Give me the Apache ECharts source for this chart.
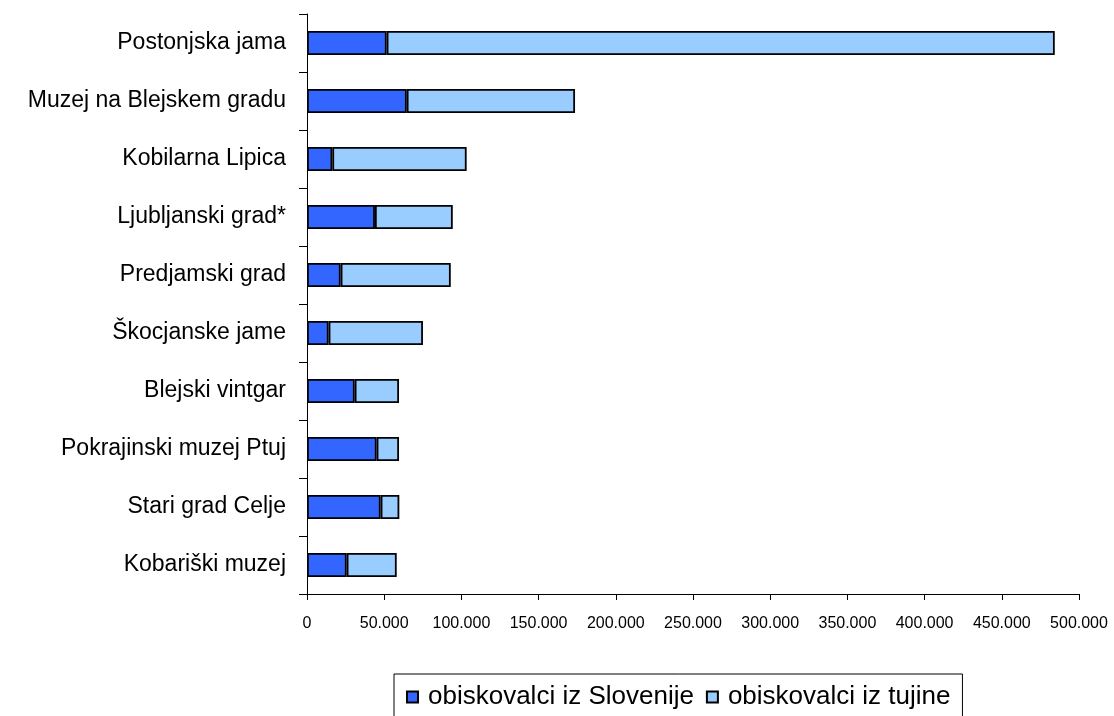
<!DOCTYPE html>
<html>
<head>
<meta charset="utf-8">
<script src="https://cdn.jsdelivr.net/npm/echarts@6/dist/echarts.min.js"></script>
<style>
html,body{margin:0;padding:0;background:#fff;}
#chart{width:1114px;height:716px;}
</style>
</head>
<body>
<div id="chart"></div>
<script>
var categories = ['Postonjska jama','Muzej na Blejskem gradu','Kobilarna Lipica','Ljubljanski grad*','Predjamski grad','Škocjanske jame','Blejski vintgar','Pokrajinski muzej Ptuj','Stari grad Celje','Kobariški muzej'];
var slovenija = [51600, 64600, 16400, 44000, 21800, 14000, 30900, 45100, 47700, 25700];
var tujina = [432700, 109000, 87000, 50400, 71300, 61100, 28700, 14500, 12100, 32400];
var seriesNames = ['obiskovalci iz Slovenije','obiskovalci iz tujine'];

var chart = echarts.init(document.getElementById('chart'));
var font = 'Liberation Sans, Arial, sans-serif';
chart.setOption({
  animation: false,
  backgroundColor: '#fff',
  grid: {left: 307, right: 35, top: 14, bottom: 122, containLabel: false},
  legend: {
    left: 394, top: 674,
    padding: [10, 12, 12, 12],
    itemGap: 12,
    itemWidth: 11, itemHeight: 11,
    borderColor: '#000', borderWidth: 1,
    icon: 'rect',
    textStyle: {fontFamily: font, fontSize: 26, color: '#000', padding: [0,0,0,5]},
    data: seriesNames
  },
  xAxis: {
    type: 'value', min: 0, max: 500000, interval: 50000,
    axisLine: {show: true, lineStyle: {color: '#000', width: 1}},
    axisTick: {show: true, length: 6, lineStyle: {color: '#000'}},
    splitLine: {show: false},
    axisLabel: {
      fontFamily: font, fontSize: 16, color: '#000', margin: 22,
      formatter: function (v) { return v === 0 ? '0' : (v/1000) + '.000'; }
    }
  },
  yAxis: {
    type: 'category', data: categories, inverse: true,
    axisLine: {show: true, lineStyle: {color: '#000', width: 1}},
    axisTick: {show: true, length: 8, lineStyle: {color: '#000'}},
    axisLabel: {fontFamily: font, fontSize: 23, color: '#000', margin: 21}
  },
  series: [
    {name: seriesNames[0], type: 'bar', stack: 'a', data: slovenija, barWidth: 24,
     itemStyle: {color: '#3366FF', borderColor: '#000', borderWidth: 1.8}},
    {name: seriesNames[1], type: 'bar', stack: 'a', data: tujina, barWidth: 24,
     itemStyle: {color: '#99CCFF', borderColor: '#000', borderWidth: 1.8}}
  ]
});
</script>
</body>
</html>
